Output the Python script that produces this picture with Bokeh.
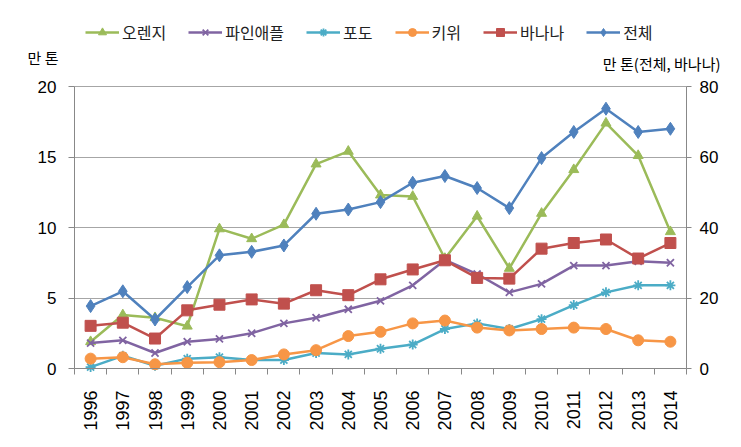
import math
from bokeh.plotting import figure
from bokeh.models import Range1d, LinearAxis, FixedTicker, Legend, LegendItem, Label
from bokeh.embed import file_html
from bokeh.resources import INLINE

years = [str(y) for y in range(1996, 2015)]
orange = [1.9, 3.8, 3.6, 3.0, 9.9, 9.2, 10.2, 14.5, 15.4, 12.3, 12.2, 7.8, 10.8, 7.1, 11.0, 14.1, 17.4, 15.1, 9.7]
pineapple = [1.8, 2.0, 1.1, 1.9, 2.1, 2.5, 3.2, 3.6, 4.2, 4.8, 5.9, 7.7, 6.7, 5.4, 6.0, 7.3, 7.3, 7.6, 7.5]
grape = [0.1, 0.9, 0.2, 0.7, 0.8, 0.6, 0.6, 1.1, 1.0, 1.4, 1.7, 2.8, 3.2, 2.8, 3.5, 4.5, 5.4, 5.9, 5.9]
kiwi = [0.7, 0.8, 0.3, 0.4, 0.45, 0.6, 1.0, 1.3, 2.3, 2.6, 3.2, 3.4, 2.9, 2.7, 2.8, 2.9, 2.8, 2.0, 1.9]
banana = [12.1, 13.0, 8.5, 16.5, 18.1, 19.6, 18.4, 22.2, 20.8, 25.3, 28.1, 30.7, 25.7, 25.5, 34.0, 35.6, 36.6, 31.2, 35.6]
total = [17.7, 21.9, 13.9, 23.1, 32.1, 33.1, 34.9, 43.9, 45.1, 47.2, 52.7, 54.6, 51.2, 45.5, 59.7, 67.1, 73.7, 67.1, 68.0]

left_ticks = [0, 5, 10, 15, 20]
right_ticks = [0, 20, 40, 60, 80]
left_unit = "만 톤"
right_unit = "만 톤(전체, 바나나)"

KR = "Noto Sans CJK KR"
NUM = "Liberation Sans"
AXIS_COLOR = "#888888"
GRID_COLOR = "#A6A6A6"

W, H = 725, 431
# plot area in canvas pixels
PX_L, PX_R, PX_T, PX_B = 74, 686, 86, 368

n = len(years)
xs = list(range(n))
x_lo, x_hi = -0.5, n - 0.5
y_lo, y_hi = left_ticks[0], left_ticks[-1]
r_lo, r_hi = right_ticks[0], right_ticks[-1]

xpp = (x_hi - x_lo) / (PX_R - PX_L)
ypp = (y_hi - y_lo) / (PX_B - PX_T)
rpp = (r_hi - r_lo) / (PX_B - PX_T)

p = figure(width=W, height=H, output_backend="svg", toolbar_location=None,
           x_range=Range1d(x_lo - PX_L * xpp, x_hi + (W - PX_R) * xpp),
           y_range=Range1d(y_lo - (H - PX_B) * ypp, y_hi + PX_T * ypp),
           min_border=0)
p.outline_line_color = None
p.background_fill_color = "white"
p.border_fill_color = "white"
p.extra_y_ranges = {"right": Range1d(r_lo - (H - PX_B) * rpp, r_hi + PX_T * rpp)}

# x axis (drawn at y = 0)
xa = p.xaxis[0]
xa.fixed_location = y_lo
xa.bounds = (x_lo, x_hi)
xa.ticker = FixedTicker(ticks=xs, minor_ticks=[i - 0.5 for i in range(n + 1)])
xa.major_label_overrides = {i: y for i, y in enumerate(years)}
xa.major_label_orientation = math.pi / 2
xa.major_tick_out = 0
xa.major_tick_in = 0
xa.minor_tick_out = 6
xa.minor_tick_in = 0
xa.minor_tick_line_color = AXIS_COLOR
xa.axis_line_color = AXIS_COLOR
xa.major_label_standoff = 16
xa.major_label_text_font = NUM
xa.major_label_text_font_size = "18px"
xa.major_label_text_color = "black"

# left axis
ya = p.yaxis[0]
ya.fixed_location = x_lo
ya.bounds = (y_lo, y_hi)
ya.ticker = FixedTicker(ticks=left_ticks)
ya.major_tick_out = 6
ya.major_tick_in = 0
ya.minor_tick_line_color = None
ya.major_tick_line_color = AXIS_COLOR
ya.axis_line_color = AXIS_COLOR
ya.major_label_standoff = 12
ya.major_label_text_font = NUM
ya.major_label_text_font_size = "17px"
ya.major_label_text_color = "black"

# right axis
ra = LinearAxis(y_range_name="right", ticker=FixedTicker(ticks=right_ticks))
ra.fixed_location = x_hi
ra.bounds = (r_lo, r_hi)
ra.major_tick_out = 5
ra.major_tick_in = 0
ra.minor_tick_line_color = None
ra.major_tick_line_color = AXIS_COLOR
ra.axis_line_color = AXIS_COLOR
ra.major_label_standoff = 8
ra.major_label_text_font = NUM
ra.major_label_text_font_size = "17px"
ra.major_label_text_color = "black"
p.add_layout(ra, "right")

p.xgrid.visible = False
p.ygrid.ticker = FixedTicker(ticks=left_ticks[1:])
p.ygrid.grid_line_color = GRID_COLOR
p.ygrid.grid_line_width = 1
try:
    p.ygrid.cross_bounds = (x_lo, x_hi)
except Exception:
    pass

series = [
    ("오렌지", orange, "#9BBB59", "triangle", 10, "default"),
    ("파인애플", pineapple, "#8064A2", "x", 10, "default"),
    ("포도", grape, "#4BACC6", "asterisk", 10, "default"),
    ("키위", kiwi, "#F79646", "circle", 11, "default"),
    ("바나나", banana, "#C0504D", "square", 11, "right"),
    ("전체", total, "#4F81BD", "diamond", 13, "right"),
]

items = []
for name, vals, col, mk, sz, rng in series:
    ln = p.line(xs, vals, line_color=col, line_width=2.5, y_range_name=rng)
    if mk in ("x", "asterisk"):
        sc = p.scatter(xs, vals, marker=mk, size=sz, line_color=col, line_width=1.8, y_range_name=rng)
    else:
        sc = p.scatter(xs, vals, marker=mk, size=sz, fill_color=col, line_color=col, y_range_name=rng)
    items.append(LegendItem(label=name, renderers=[ln, sc]))

legend = Legend(items=items, location=(85, H - 30 - 14), orientation="horizontal")
legend.label_text_font = KR
legend.label_text_font_size = "16px"
legend.label_text_color = "#222222"
legend.glyph_width = 34
legend.label_standoff = 3
legend.spacing = 22
legend.padding = 4
legend.margin = 0
legend.border_line_color = None
legend.background_fill_alpha = 0
p.add_layout(legend, "center")

p.add_layout(Label(x=27, y=H - 57, x_units="screen", y_units="screen", text=left_unit,
                   text_font=KR, text_font_size="15px", text_baseline="middle", text_color="black"))
p.add_layout(Label(x=720, y=H - 63, x_units="screen", y_units="screen", text=right_unit,
                   text_font=KR, text_font_size="15px", text_baseline="middle", text_align="right",
                   text_color="black"))

open("out.html", "w").write(file_html(p, INLINE))
